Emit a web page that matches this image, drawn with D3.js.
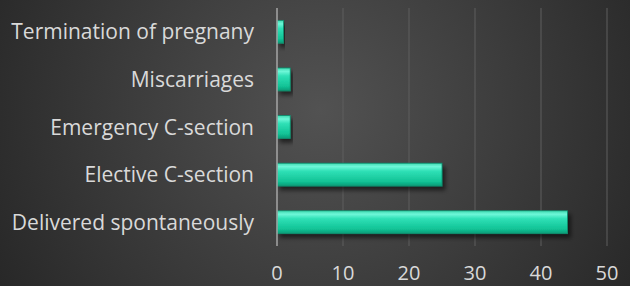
<!DOCTYPE html>
<html>
<head>
<meta charset="utf-8">
<script src="https://cdn.jsdelivr.net/npm/d3@7"></script>
<style>
  body { margin: 0; background: #2b2b2b; }
  svg { display: block; }
</style>
</head>
<body>
<div id="chart"></div>
<script>
// data
var categories = ["Termination of pregnany", "Miscarriages", "Emergency C-section", "Elective C-section", "Delivered spontaneously"];
var values = [1, 2, 2, 25, 44];
var xTicks = [0, 10, 20, 30, 40, 50];

var W = 630, H = 286;
var margin = {top: 8, right: 23, bottom: 40, left: 277};

var svg = d3.select("#chart").append("svg")
    .attr("width", W)
    .attr("height", H);

var defs = svg.append("defs");

var bg = defs.append("radialGradient")
    .attr("id", "bg")
    .attr("gradientUnits", "userSpaceOnUse")
    .attr("cx", 320).attr("cy", 110).attr("r", 380);
bg.append("stop").attr("offset", "0%").attr("stop-color", "#525252");
bg.append("stop").attr("offset", "100%").attr("stop-color", "#262626");

var barGrad = defs.append("linearGradient")
    .attr("id", "bar")
    .attr("x1", 0).attr("y1", 0).attr("x2", 0).attr("y2", 1);
barGrad.append("stop").attr("offset", "0%").attr("stop-color", "#3fd9b0");
barGrad.append("stop").attr("offset", "15%").attr("stop-color", "#6ef7d8");
barGrad.append("stop").attr("offset", "35%").attr("stop-color", "#2fe0b6");
barGrad.append("stop").attr("offset", "80%").attr("stop-color", "#12c396");
barGrad.append("stop").attr("offset", "100%").attr("stop-color", "#0e9a76");

var shadow = defs.append("filter").attr("id", "shadow")
    .attr("x", "-10%").attr("y", "-20%").attr("width", "130%").attr("height", "160%");
shadow.append("feDropShadow")
    .attr("dx", 3).attr("dy", 4).attr("stdDeviation", 2)
    .attr("flood-color", "#000").attr("flood-opacity", 0.55);

svg.append("rect").attr("width", W).attr("height", H).attr("fill", "url(#bg)");

var x = d3.scaleLinear().domain([0, 50]).range([margin.left, W - margin.right]);
var y = d3.scaleBand().domain(categories).range([margin.top, H - margin.bottom]).paddingInner(0.52).paddingOuter(0.26);

// gridlines
svg.append("g")
    .selectAll("line")
    .data(xTicks.slice(1))
    .enter().append("line")
    .attr("x1", function(d) { return x(d); })
    .attr("x2", function(d) { return x(d); })
    .attr("y1", margin.top)
    .attr("y2", H - margin.bottom)
    .style("stroke", "#5e5e5e")
    .style("stroke-width", "1px");

// bars
svg.append("g")
    .selectAll("rect")
    .data(values)
    .enter().append("rect")
    .attr("x", x(0))
    .attr("y", function(d, i) { return y(categories[i]); })
    .attr("width", function(d) { return x(d) - x(0); })
    .attr("height", y.bandwidth())
    .attr("fill", "url(#bar)")
    .attr("stroke", "#0c8f6e")
    .attr("stroke-width", 0.8)
    .attr("filter", "url(#shadow)");

// axis line
svg.append("line")
    .attr("x1", x(0)).attr("x2", x(0))
    .attr("y1", margin.top).attr("y2", H - margin.bottom)
    .style("stroke", "#a6a6a6")
    .style("stroke-width", "1.5px");

// category labels
svg.append("g")
    .selectAll("text")
    .data(categories)
    .enter().append("text")
    .attr("x", 254)
    .attr("y", function(d) { return y(d) + y.bandwidth() / 2; })
    .attr("dy", "0.36em")
    .style("text-anchor", "end")
    .style("font-family", "'Open Sans', sans-serif")
    .style("font-size", "21px")
    .style("fill", "#d9d9d9")
    .text(function(d) { return d; });

// x tick labels
svg.append("g")
    .selectAll("text")
    .data(xTicks)
    .enter().append("text")
    .attr("x", function(d) { return x(d); })
    .attr("y", 280)
    .style("text-anchor", "middle")
    .style("font-family", "'Open Sans', sans-serif")
    .style("font-size", "20px")
    .style("fill", "#d9d9d9")
    .text(function(d) { return d; });
</script>
</body>
</html>
